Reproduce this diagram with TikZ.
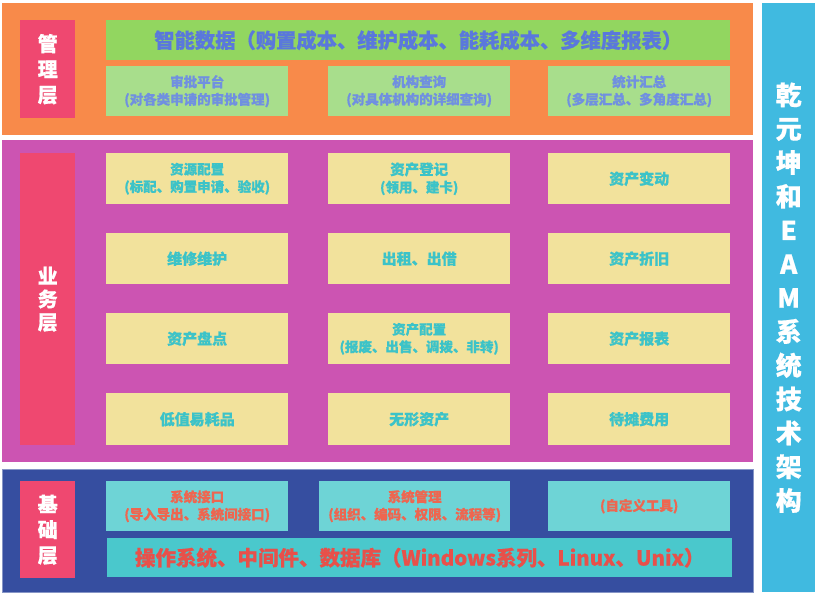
\documentclass[tikz,border=0pt]{standalone}
\usepackage{fontspec}
\setmainfont{Noto Sans CJK SC}[BoldFeatures={FakeBold=0.6}]
\definecolor{orangep}{HTML}{F88A4A}
\definecolor{greenbar}{HTML}{92D660}
\definecolor{greensub}{HTML}{A8DE8C}
\definecolor{bluetxt}{HTML}{5A78DC}
\definecolor{bluesub}{HTML}{7090E0}
\definecolor{pinklab}{HTML}{EF4870}
\definecolor{magp}{HTML}{CC54B2}
\definecolor{yelbox}{HTML}{F2E29C}
\definecolor{tealtxt}{HTML}{3CC3C8}
\definecolor{navyp}{HTML}{364EA0}
\definecolor{cyanbox}{HTML}{6ED4D6}
\definecolor{cyanbar}{HTML}{4AC8CC}
\definecolor{redtxt}{HTML}{E8504A}
\definecolor{redsub}{HTML}{EE6650}
\definecolor{sidebar}{HTML}{40BAE0}
\tikzset{
  panel/.style={inner sep=0pt, anchor=north west},
  lab/.style={panel, fill=pinklab, text=white, align=center, font=\fontsize{20}{25.5}\selectfont\bfseries},
  gsub/.style={panel, fill=greensub, text=bluesub, align=center, font=\fontsize{13.5}{17.5}\selectfont\bfseries},
  ybox/.style={panel, fill=yelbox, text=tealtxt, align=center, font=\fontsize{13.5}{17.5}\selectfont\bfseries},
  ybig/.style={ybox, font=\fontsize{15}{18}\selectfont\bfseries},
  cbox/.style={panel, fill=cyanbox, text=redsub, align=center, font=\fontsize{13.5}{17.5}\selectfont\bfseries},
}
\begin{document}
\begin{tikzpicture}[x=1pt,y=-1pt]
\useasboundingbox (0,0) rectangle (820,595);
% panels
\node[panel, fill=orangep, minimum width=751pt, minimum height=132pt] (mgmt) at (2,3) {};
\node[panel, fill=magp, minimum width=751pt, minimum height=322pt] (biz) at (2,140) {};
\node[panel, fill=navyp, draw=navyp!60!white, line width=0.6pt, minimum width=751pt, minimum height=123pt] (base) at (2,469) {};
\node[panel, fill=sidebar, text=white, align=center, minimum width=53pt, minimum height=589pt,
  font=\fontsize{26}{33.8}\selectfont\bfseries] (side) at (762,3)
  {乾\\元\\坤\\和\\E\\A\\M\\系\\统\\技\\术\\架\\构};
% management layer
\node[lab, minimum width=55pt, minimum height=98pt] (lm) at (20,20) {管\\理\\层};
\node[panel, fill=greenbar, text=bluetxt, minimum width=624pt, minimum height=40pt,
  font=\fontsize{20.3}{24}\selectfont\bfseries] (smart) at (106,20) {智能数据（购置成本、维护成本、能耗成本、多维度报表）};
\node[gsub, minimum width=182pt, minimum height=50pt] (m1) at (106,66) {审批平台\\(对各类申请的审批管理)};
\node[gsub, minimum width=182pt, minimum height=50pt] (m2) at (328,66) {机构查询\\(对具体机构的详细查询)};
\node[gsub, minimum width=182pt, minimum height=50pt] (m3) at (548,66) {统计汇总\\(多层汇总、多角度汇总)};
% business layer
\node[lab, minimum width=55pt, minimum height=292pt, font=\fontsize{20}{23}\selectfont\bfseries] (lb) at (20,153) {业\\务\\层};
\node[ybox, minimum width=182pt, minimum height=51pt] (b11) at (106,153) {资源配置\\(标配、购置申请、验收)};
\node[ybox, minimum width=182pt, minimum height=51pt] (b12) at (328,153) {\fontsize{14.5}{18}\selectfont 资产登记\\(领用、建卡)};
\node[ybig, minimum width=182pt, minimum height=51pt] (b13) at (548,153) {资产变动};
\node[ybig, minimum width=182pt, minimum height=51pt] (b21) at (106,233) {维修维护};
\node[ybig, minimum width=182pt, minimum height=51pt] (b22) at (328,233) {出租、出借};
\node[ybig, minimum width=182pt, minimum height=51pt] (b23) at (548,233) {资产折旧};
\node[ybig, minimum width=182pt, minimum height=51pt] (b31) at (106,313) {资产盘点};
\node[ybox, minimum width=182pt, minimum height=51pt] (b32) at (328,313) {资产配置\\(报废、出售、调拨、非转)};
\node[ybig, minimum width=182pt, minimum height=51pt] (b33) at (548,313) {资产报表};
\node[ybig, minimum width=182pt, minimum height=52pt] (b41) at (106,393) {低值易耗品};
\node[ybig, minimum width=182pt, minimum height=52pt] (b42) at (328,393) {无形资产};
\node[ybig, minimum width=182pt, minimum height=52pt] (b43) at (548,393) {待摊费用};
% base layer
\node[lab, minimum width=55pt, minimum height=97pt] (lf) at (20,481) {基\\础\\层};
\node[cbox, minimum width=182pt, minimum height=50pt] (f1) at (106,481) {系统接口\\(导入导出、系统间接口)};
\node[cbox, minimum width=191pt, minimum height=50pt] (f2) at (319,481) {系统管理\\(组织、编码、权限、流程等)};
\node[cbox, minimum width=182pt, minimum height=50pt] (f3) at (548,481) {(自定义工具)};
\node[panel, fill=cyanbar, text=redtxt, minimum width=625pt, minimum height=39pt,
  font=\fontsize{20.5}{24}\selectfont\bfseries] (os) at (107,538) {操作系统、中间件、数据库（Windows系列、Linux、Unix）};
\end{tikzpicture}
\end{document}
